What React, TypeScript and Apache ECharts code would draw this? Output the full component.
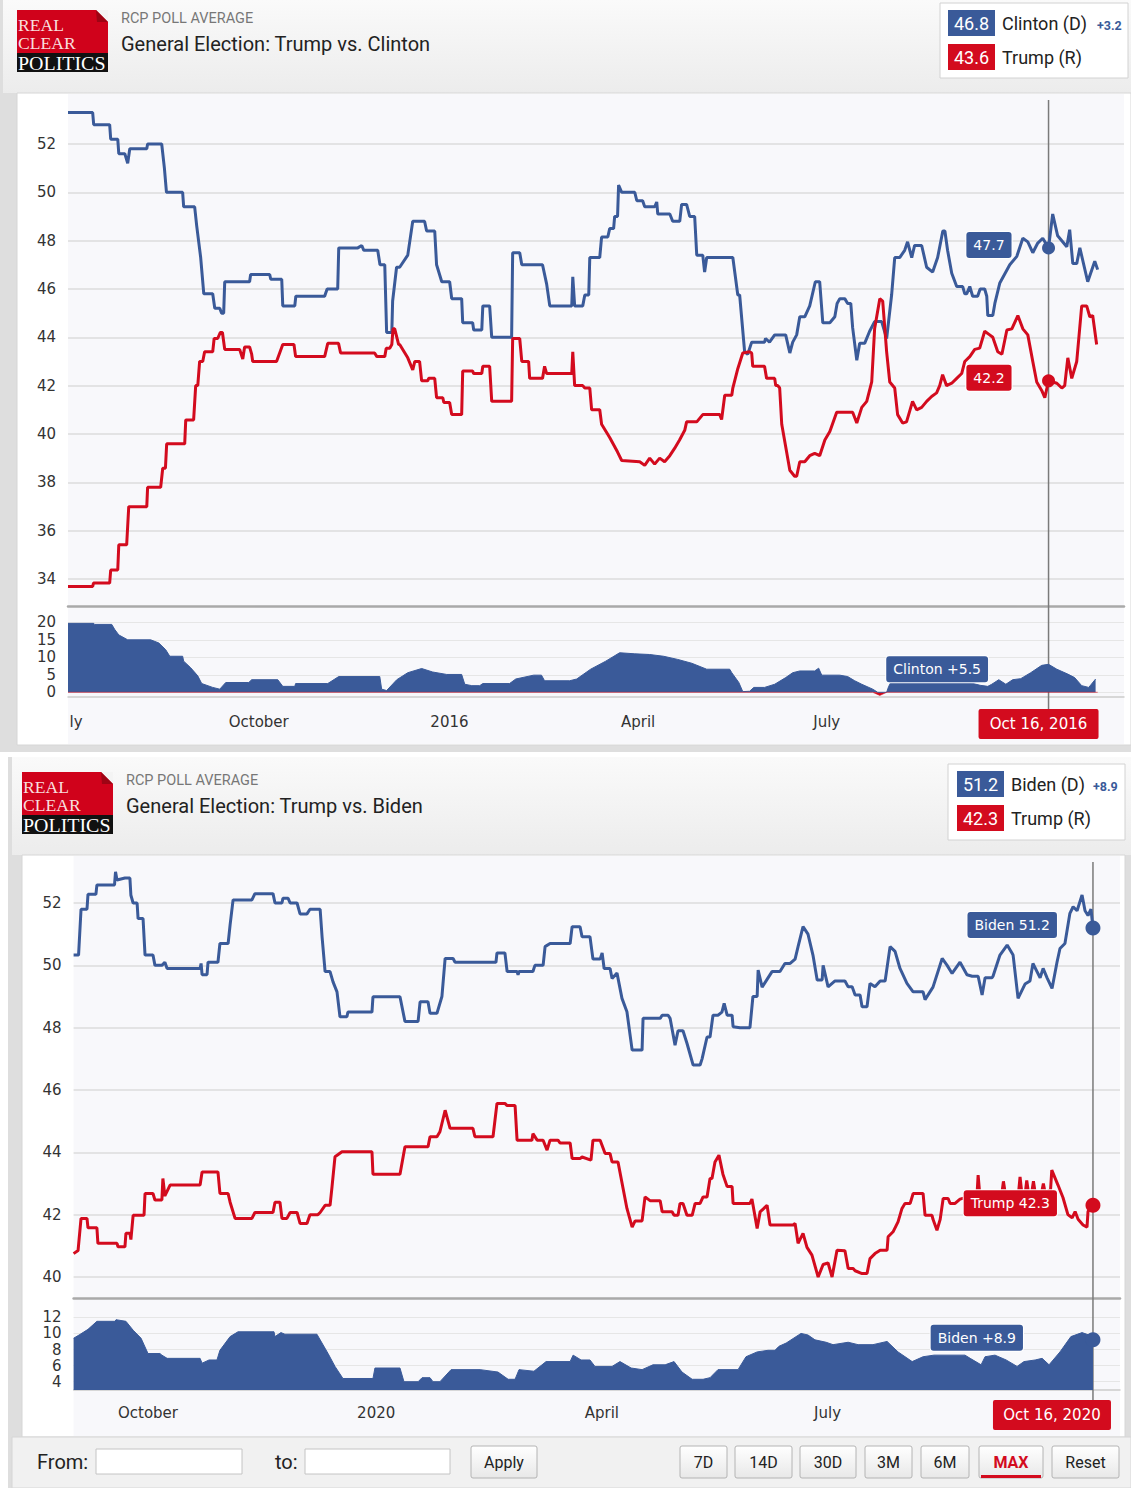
import React, { useEffect, useRef } from "react";
import * as echarts from "echarts";

const DAY = 86400000;
const START_2016 = Date.UTC(2015, 6, 1);
const START_2020 = Date.UTC(2019, 8, 1);
const CURRENT_DAY_2016 = 473; // Oct 16, 2016
const CURRENT_DAY_2020 = 411; // Oct 16, 2020

const BLUE = "#3a5a99";
const RED = "#d30b1e";

// ---- tick labels ----
const xTickDates2016 = ["2015-07-01", "2015-10-01", "2016-01-01", "2016-04-01", "2016-07-01"];
const xTickLabels2016 = ["ly", "October", "2016", "April", "July"];
const xTickDates2020 = ["2019-10-01", "2020-01-01", "2020-04-01", "2020-07-01"];
const xTickLabels2020 = ["October", "2020", "April", "July"];
const yTicksMain2016 = [34, 36, 38, 40, 42, 44, 46, 48, 50, 52];
const yTicksSpread2016 = [0, 5, 10, 15, 20];
const yTicksMain2020 = [40, 42, 44, 46, 48, 50, 52];
const yTicksSpread2020 = [4, 6, 8, 10, 12];

// ---- 2016 data: [days since Jul 1 2015, value] ----
const clinton2016 = [[0,53.3],[11.9,53.3],[12.4,52.8],[20.1,52.8],[20.6,52.2],[24,52.2],[24.5,51.6],[27.4,51.6],[28.8,51.2],[29.8,51.8],[38,51.8],[38.4,52.0],[45.2,52.0],[46.5,51.0],[47.5,50.0],[55.3,50.0],[55.8,49.4],[61.1,49.4],[62.1,48.6],[64,47.3],[65.5,45.8],[69.8,45.8],[70.8,45.2],[73.2,45.2],[74.1,45.0],[75.1,45.0],[75.6,46.3],[87.6,46.3],[88.1,46.6],[97.3,46.6],[97.8,46.4],[103.1,46.4],[103.6,45.3],[109.4,45.3],[109.9,45.7],[123.8,45.7],[125,46.0],[130.1,46.0],[130.6,47.7],[139.8,47.7],[141.7,47.8],[142.7,47.6],[149.4,47.6],[150.5,47.0],[152.8,47.0],[153.7,44.2],[156.2,44.2],[156.6,45.5],[158.5,46.9],[160,46.9],[163.9,47.4],[166.3,48.8],[172,48.8],[173,48.4],[176.9,48.4],[177.8,47.0],[180.3,46.3],[184.1,46.3],[185.1,45.6],[189.9,45.6],[190.4,44.6],[195.2,44.6],[195.7,44.3],[199.6,44.3],[200.1,45.3],[203.4,45.3],[204.4,44.0],[214,44.0],[214.5,47.5],[217.9,47.5],[218.9,47.0],[228.9,47.0],[230.9,46.2],[232.4,45.3],[243,45.3],[243.5,46.5],[244.4,45.3],[248.3,45.3],[249.3,45.75],[251.2,45.75],[251.7,47.3],[256.5,47.3],[257.4,48.15],[260.4,48.15],[261.3,48.5],[263.2,48.5],[263.7,49.0],[265.1,49.0],[265.6,50.3],[267.1,50.0],[273.4,50.0],[274.4,49.65],[277.2,49.65],[278.2,49.4],[283,49.4],[284,49.6],[284.5,49.1],[290.3,49.1],[291.7,48.8],[295.1,48.8],[296,49.5],[298.4,49.5],[299.9,49.0],[302.3,49.0],[303.3,47.4],[306.2,47.4],[307.1,46.7],[308.1,47.3],[320.7,47.3],[323.1,45.75],[324,45.75],[326.4,43.4],[327.9,43.3],[329.8,43.8],[336,43.8],[336.5,43.95],[338.4,43.8],[340.9,44.1],[346.2,44.1],[347,43.8],[348.2,43.35],[349.6,43.8],[351.5,44.1],[353,44.85],[355.4,44.85],[357.8,45.3],[360.5,46.3],[362.6,46.3],[364.1,44.6],[367.5,44.6],[369.9,44.85],[371,45.4],[372.3,45.6],[374.7,45.6],[376.1,45.4],[377.6,45.4],[378.5,44.4],[380.5,43.05],[381.9,43.75],[384.3,43.75],[386.7,44.25],[389.1,44.65],[392.5,44.65],[394.9,43.95],[397.3,45.75],[398.8,47.3],[401.2,47.3],[403.6,47.6],[405,47.95],[407,47.3],[408.4,47.8],[411.8,47.8],[414.2,46.9],[417.1,46.7],[419.5,47.3],[422,48.4],[423,48.4],[424.3,47.6],[426.3,46.65],[428.7,46.1],[431.6,46.1],[432.6,45.8],[433.5,45.8],[435,46.1],[436.4,45.7],[438.8,45.7],[440,46.0],[442.2,46.0],[443.2,45.7],[443.7,44.9],[446.1,44.9],[447.1,45.4],[449.5,46.25],[454.3,47.0],[457.7,47.35],[460.6,48.1],[463,47.95],[465.4,47.5],[467.8,47.9],[470.2,48.1],[473,47.7],[475,49.1],[477.4,48.2],[481.8,47.75],[483.2,48.45],[484.7,47.05],[486.6,47.05],[488.1,47.7],[491.9,46.3],[495.3,47.15],[496.7,46.8]];

const trump2016 = [[0,33.69],[11.9,33.69],[12.3,33.83],[20.1,33.83],[20.6,34.37],[24,34.37],[24.5,35.41],[28.3,35.41],[29.3,36.99],[38,36.99],[38.4,37.79],[44.7,37.79],[45.7,38.58],[47,38.58],[47.6,39.59],[56.3,39.59],[56.8,40.58],[60.6,40.58],[61.6,42.0],[62.6,42.0],[63.5,43.0],[65,43.0],[65.9,43.4],[69.8,43.4],[70.5,43.95],[72.2,43.95],[73.5,44.2],[74.5,44.2],[75.6,43.5],[82.8,43.5],[84.3,43.1],[85.2,43.6],[87.6,43.6],[88.6,43.3],[89.1,43.0],[100.6,43.0],[102.1,43.35],[103.6,43.7],[109,43.7],[109.8,43.2],[123.8,43.2],[125.3,43.75],[130.5,43.75],[131.5,43.35],[147.9,43.35],[149,43.2],[152.8,43.2],[153.5,43.55],[155.2,43.55],[156.2,43.7],[156.8,44.35],[157.6,44.35],[159.5,43.7],[160,43.7],[163.9,43.15],[166.3,42.65],[167.3,43.0],[169.6,43.0],[170.6,42.2],[173.5,42.2],[174,42.3],[176.9,42.3],[177.8,41.5],[180.8,41.5],[181.3,41.3],[184.1,41.3],[185.1,40.8],[189.9,40.8],[190.4,42.6],[195.2,42.6],[195.7,42.5],[199.6,42.5],[200.1,42.8],[203.4,42.8],[204.4,41.35],[214,41.35],[214.5,43.95],[217.9,43.95],[218.9,43.0],[222.2,43.0],[222.7,42.3],[228.9,42.3],[229.9,42.8],[230.9,42.5],[243,42.5],[243.5,43.4],[244.4,42.0],[248.3,42.0],[249.3,41.9],[251.7,41.9],[252.6,41.0],[256.5,41.0],[257.4,40.4],[261.3,39.85],[265.1,39.25],[267.1,38.9],[275.8,38.85],[278.2,38.7],[280.6,39.0],[283,38.75],[285.4,39.0],[287.8,38.85],[290.3,39.1],[292.6,39.4],[295,39.75],[297.5,40.15],[298.4,40.5],[303.3,40.5],[306.2,40.8],[314.4,40.8],[315.3,40.6],[316.8,41.6],[320.2,41.6],[320.7,41.9],[323.1,42.7],[325.5,43.35],[328.8,43.4],[329.8,43.35],[330.3,42.8],[336,42.8],[337,42.3],[340.9,42.3],[341.4,42.0],[342.4,42.0],[343.3,41.9],[344.3,40.4],[348.2,38.5],[350.5,38.25],[351.5,38.25],[353,38.85],[355.4,38.85],[357.8,39.1],[360.2,39.2],[362.6,39.1],[365.1,39.75],[367.5,40.1],[370.8,40.9],[378.5,40.9],[380.5,40.45],[382.9,41.1],[385.3,41.35],[387.7,42.15],[389.1,44.35],[391.6,45.6],[393,45.5],[394.9,43.4],[396.4,42.15],[398.8,41.9],[400.2,40.8],[402.6,40.45],[404.5,40.5],[407.4,41.35],[409.4,41.0],[411.8,41.1],[414.2,41.35],[416.6,41.55],[419,41.7],[420.5,42.0],[421.9,42.45],[423.8,42.0],[426.3,42.1],[428.7,42.3],[431.1,42.5],[432.6,43.0],[435,43.2],[437.4,43.5],[439.8,43.55],[442.2,44.25],[444.6,44.1],[446.1,44.0],[448.5,43.4],[450.5,43.3],[452.9,44.3],[455.3,44.35],[458.2,44.9],[460.6,44.35],[463,44.1],[465.4,43.0],[467.3,42.15],[469.7,41.8],[471.2,41.5],[473,42.2],[477,42.1],[479.4,41.9],[480.8,42.0],[482.3,43.15],[484.2,42.3],[486.6,43.0],[489,45.3],[491.4,45.3],[492.9,44.85],[494.3,44.9],[496.2,43.7]];

const clintonSpread2016 = [[0,19.7],[12.4,19.7],[12.9,19.4],[21.1,19.4],[22.5,18.0],[24.5,16.4],[28.8,15.0],[39.9,15.0],[43.8,14.1],[47.1,12.2],[49.1,10.3],[55.3,10.3],[55.8,8.9],[59.2,7.0],[62.6,4.7],[64.5,2.5],[69.8,1.4],[73.2,0.9],[76.1,2.8],[87.2,2.8],[88.6,3.6],[101.2,3.6],[103.6,1.7],[109.4,1.7],[109.8,2.5],[125.3,2.5],[130.6,4.5],[150.4,4.5],[151.3,0.9],[153.7,0.5],[158.6,3.6],[163.9,5.6],[170.6,6.8],[175.9,5.8],[182.7,5.1],[189.9,5.1],[191.4,2.3],[194.8,1.9],[198.6,1.9],[200.1,2.5],[213,2.5],[216,3.8],[224.6,4.9],[228.4,4.9],[229.9,3.3],[242,3.3],[245.4,3.8],[252.1,6.6],[259.4,8.9],[266.1,11.3],[273.4,11.0],[280.6,10.8],[287.3,10.3],[294.1,9.4],[300.9,8.3],[308.1,6.6],[319.2,6.6],[320.2,5.6],[323.6,2.8],[325.5,0.2],[328.8,0.3],[330.8,1.4],[336,1.4],[340.9,2.3],[346.2,4.2],[349.6,5.6],[353,6.1],[360.2,6.1],[362.1,6.9],[363.6,4.9],[372.3,4.9],[376.1,4.5],[379.5,3.3],[382.9,2.3],[388.2,0.9],[390.6,0],[394.9,0],[395.9,1.7],[398,4.0],[402,6.0],[410,6.3],[420,6.0],[430,3.5],[440,2.0],[443.7,1.7],[445.6,2.3],[449,3.6],[452.4,2.3],[455.7,3.6],[459.6,3.9],[464.4,5.6],[469.7,7.7],[473,8.0],[477,6.6],[482.3,5.2],[485.6,4.2],[489,1.9],[492.4,1.4],[495.7,3.8]];

const trumpLead2016 = [[0,0],[388.2,0],[391.6,-0.9],[394.9,0],[496.7,0]];

// ---- 2020 data: [days since Sep 1 2019, value] ----
const biden2020 = [[0,50.33],[2,50.33],[3,51.8],[5.4,51.8],[5.8,52.28],[9,52.28],[9.4,52.58],[16.5,52.58],[16.9,53.0],[17.5,52.74],[20.7,52.8],[22.7,52.8],[23.1,52.25],[24,52.0],[25.6,52.0],[26,51.5],[28,51.5],[28.8,50.33],[32,50.33],[32.8,50.0],[35.6,50.0],[36.8,50.1],[37.7,49.9],[51,49.9],[51.4,50.06],[51.8,49.7],[53.8,49.7],[54.2,50.1],[58.2,50.1],[59,50.7],[62.3,50.7],[63.1,51.3],[64.3,52.1],[71.9,52.1],[73.1,52.3],[80.4,52.3],[81.2,52.0],[84,52.0],[84.4,52.15],[86.5,52.15],[87.3,52.0],[90.1,52.0],[91.3,51.65],[94.1,51.65],[95.3,51.8],[99.4,51.8],[100.2,50.9],[101.4,49.8],[103.4,49.8],[104.6,49.47],[106.2,49.15],[107.4,48.35],[110.2,48.35],[110.6,48.5],[120.3,48.5],[120.7,48.99],[131.6,48.99],[133.6,48.2],[138.9,48.2],[139.7,48.83],[142.9,48.83],[143.7,48.46],[146.5,48.46],[148.5,49.0],[149.8,50.22],[153,50.22],[153.8,50.1],[170.3,50.1],[170.7,50.4],[173.9,50.4],[174.8,49.8],[178.8,49.8],[179.2,49.7],[179.6,49.8],[185.2,49.8],[186,50.0],[189.3,50.0],[190.1,50.6],[192.1,50.7],[200.2,50.7],[201,51.24],[204.2,51.24],[205,50.92],[208.2,50.92],[209.4,50.2],[212.3,50.2],[213.1,50.4],[213.9,49.9],[216.3,49.9],[217.1,49.58],[219.1,49.75],[221.1,48.94],[223.1,48.51],[225.2,47.28],[229.2,47.28],[229.6,48.3],[236.5,48.3],[237.3,48.4],[239.7,48.4],[240.5,48.3],[242.5,47.44],[243.7,47.9],[245.7,47.9],[247.3,47.5],[249.8,46.8],[252.6,46.8],[253.4,47.0],[255.4,47.7],[256.6,47.7],[257.8,48.4],[259.8,48.4],[261.4,48.5],[262.3,48.78],[263.5,48.4],[265.5,48.4],[265.9,48.03],[268.7,48.0],[272.7,48.0],[273.9,49.0],[275.6,49.0],[276,49.85],[277.6,49.3],[279.6,49.55],[281.6,49.8],[284.8,49.8],[286.8,50.06],[288.9,50.06],[290.9,50.2],[292.1,50.6],[294.1,51.24],[296.1,51.0],[298.1,50.33],[299.8,49.53],[301.8,49.53],[302.2,50.0],[304.2,49.31],[307,49.5],[311,49.5],[312.3,49.31],[313.9,49.31],[315.1,49.05],[317.1,49.05],[317.9,48.67],[319.9,48.67],[321.1,49.42],[323.1,49.31],[325.2,49.5],[327.2,49.5],[329.2,50.6],[331.2,50.45],[333.2,49.9],[336,49.42],[338.5,49.15],[342.5,49.15],[343.3,48.9],[346.5,49.3],[350.2,50.22],[352.2,50.0],[354.2,49.74],[357.4,50.1],[360.2,49.7],[362.3,49.65],[364.7,49.65],[366.3,49.05],[367.5,49.6],[370.3,49.6],[370.7,49.65],[373.5,50.33],[376.4,50.65],[378.8,50.33],[380.8,48.94],[383.6,49.4],[385.6,49.5],[386.8,50.06],[389.7,49.6],[390.9,49.9],[392.5,49.6],[394.5,49.26],[396.5,50.1],[397.7,50.54],[399.7,50.7],[401.7,51.67],[403,51.88],[404.6,51.75],[406.6,52.26],[407.8,51.75],[409,51.6],[410.2,51.8],[411,51.2]];

const trump2020 = [[0,40.75],[1.8,40.85],[3,41.88],[5.4,41.88],[5.8,41.58],[9.4,41.58],[9.8,41.08],[17.5,41.08],[17.9,40.97],[20.7,40.97],[21.1,41.4],[22.7,41.4],[23.1,41.2],[24,41.98],[28.4,41.98],[28.8,42.68],[32,42.68],[32.8,42.47],[35.6,42.47],[36,43.16],[36.8,42.6],[38.9,42.95],[51,42.95],[51.8,43.37],[58.2,43.37],[59,42.68],[62.3,42.68],[63.1,42.4],[65.1,41.88],[71.9,41.88],[73.1,42.07],[80.4,42.07],[81.2,42.4],[83.2,42.4],[84,41.88],[86,41.88],[87.3,42.07],[90.1,42.07],[91.3,41.72],[94.1,41.72],[95.3,42.0],[98.5,42.0],[99.4,42.07],[101.4,42.3],[103.4,42.3],[104.2,42.9],[105.4,43.86],[108.2,44.02],[120.3,44.02],[120.7,43.3],[131.6,43.3],[133.6,44.18],[142.9,44.18],[143.7,44.5],[146.5,44.5],[147.7,44.66],[149.8,45.35],[151.8,44.77],[161,44.77],[161.8,44.5],[169.1,44.5],[170.7,45.57],[173.9,45.57],[174.8,45.5],[178,45.5],[178.8,44.39],[184.8,44.39],[185.2,44.6],[186.9,44.39],[189.3,44.39],[190.9,44.07],[192.1,44.39],[195.3,44.39],[196.1,44.3],[200.2,44.3],[201,43.8],[204.2,43.8],[205,43.85],[208.6,43.75],[209.4,44.39],[212.3,44.39],[214.3,43.96],[216.3,43.96],[217.1,43.69],[219.5,43.69],[223.1,42.2],[225.2,41.6],[226.4,41.8],[229.2,41.8],[230.4,42.57],[232.4,42.45],[236.5,42.45],[237.3,42.09],[241.3,42.09],[242.1,41.98],[243.7,41.98],[244.5,42.36],[245.7,42.36],[247.3,41.98],[249.4,41.98],[250.6,42.36],[252.6,42.36],[253.8,42.57],[255.4,42.57],[256.6,43.16],[257.4,43.16],[258.6,43.69],[260.2,43.91],[261.8,43.3],[263.5,42.9],[265.5,42.9],[265.9,42.36],[272.7,42.36],[273.5,42.5],[275.6,41.56],[276.8,42.09],[279.6,42.3],[280.8,41.67],[290.1,41.67],[290.9,41.72],[292.1,41.08],[294.1,41.4],[295.7,40.95],[297.7,40.7],[300.2,40.0],[302.2,40.4],[304.2,40.45],[305.8,40.0],[307.8,40.86],[311,40.84],[312.3,40.27],[314.3,40.27],[315.1,40.2],[317.9,40.11],[319.9,40.11],[321.1,40.59],[323.1,40.75],[325.2,40.86],[328,40.86],[328.4,41.29],[330.4,41.45],[332.4,41.77],[334,42.2],[335.2,42.36],[337.3,42.36],[338.5,42.68],[342.5,42.68],[343.3,41.98],[346.1,41.98],[346.5,41.85],[348.1,41.5],[349.4,41.85],[350.6,42.52],[352.6,42.52],[353.4,42.36],[355.4,42.36],[357.4,42.5],[362,42.6],[364.3,42.7],[364.7,43.27],[365.3,42.7],[374.3,42.7],[374.9,43.07],[375.6,42.7],[381,42.7],[381.6,43.21],[382.3,42.7],[383.8,42.75],[384.3,43.1],[385,42.7],[386.4,42.75],[387,43.07],[387.7,42.7],[390.4,42.75],[391,43.0],[391.7,42.7],[393.9,42.8],[394.4,43.43],[396.9,42.95],[398.9,42.55],[400.9,42.0],[402.6,41.9],[403.8,42.1],[405,41.85],[407,41.67],[408.6,41.6],[409,42.1],[411,42.3]];

const bidenSpread2020 = [[0,9.4],[2.2,9.8],[5.8,10.5],[9.4,11.5],[16.7,11.5],[17.1,11.7],[21.1,11.5],[24,10.4],[27.2,9.4],[30,7.5],[34.8,7.5],[35.6,7.3],[37.7,6.9],[51,6.9],[51.8,6.3],[54.6,6.7],[57.8,6.7],[59,7.9],[63.1,9.6],[66.3,10.2],[80.8,10.2],[81.2,9.6],[83.6,10.1],[85.2,9.9],[98.1,9.9],[102.6,7.5],[105.4,5.9],[108.6,4.4],[120.7,4.4],[121.5,5.7],[131.6,5.7],[133.2,4.0],[138.9,4.0],[140.5,4.5],[143.7,4.5],[144.9,4.0],[147.7,4.0],[152.2,5.5],[163.9,5.5],[171.1,5.2],[175.2,4.3],[178,4.3],[179.6,5.5],[185.6,5.3],[190.5,6.5],[200.2,6.5],[201.4,7.3],[204.6,6.7],[208.2,6.7],[210.2,5.9],[217.1,5.9],[220.3,6.5],[224.8,5.7],[229.2,5.5],[233.6,6.1],[238.5,6.1],[242.1,6.5],[245.3,5.2],[249.4,4.3],[253.8,4.3],[256.6,4.5],[259.8,5.5],[267.9,5.5],[271.1,7.1],[275.6,7.7],[280,7.9],[282.8,7.9],[284.4,8.4],[287.3,8.8],[293.3,10.0],[296.1,9.8],[298.9,9.2],[303.4,8.9],[306.2,8.6],[312.3,8.9],[316.3,8.6],[322.3,8.6],[328,9.0],[332.4,7.7],[338.1,6.5],[342.5,7.1],[346.9,7.3],[359.4,7.3],[361.5,6.9],[365.9,6.1],[367.5,7.1],[371.5,7.3],[376,6.7],[380.4,5.9],[383.2,6.5],[387.7,6.7],[390.5,6.9],[393.3,6.1],[397.7,7.7],[402.1,9.6],[406.6,10.1],[409.4,9.8],[411,9.2]];

const legend2016 = { dem: "Clinton (D)", demValue: "46.8", rep: "Trump (R)", repValue: "43.6", spread: "+3.2" };
const legend2020 = { dem: "Biden (D)", demValue: "51.2", rep: "Trump (R)", repValue: "42.3", spread: "+8.9" };
const rangeButtons = ["7D", "14D", "30D", "3M", "6M", "MAX", "Reset"];

const toTime = (start: number, pts: number[][]) => pts.map(([d, v]) => [start + d * DAY, v]);
const near = (list: number[], v: number) => list.some((t) => Math.abs(t - v) < 1e-6);

const txt = (x: number, y: number, text: string, o: any = {}) => ({
  type: "text",
  x,
  y,
  scaleX: o.sx ?? 1,
  z: o.z ?? 100,
  style: {
    text,
    fill: o.fill || "#222",
    fontSize: o.size || 14,
    fontFamily: o.family || "Roboto",
    fontWeight: o.weight || "normal",
    lineHeight: o.lh,
    align: o.align || "left",
    verticalAlign: "middle",
    textAlign: o.align || "left",
    textVerticalAlign: "middle",
  },
});
const rect = (x: number, y: number, w: number, h: number, fill: any, o: any = {}) => ({
  type: "rect",
  z: o.z ?? 50,
  shape: { x, y, width: w, height: h, r: o.r || 0 },
  style: { fill, stroke: o.stroke || null, lineWidth: o.lw || 1 },
});
const vgrad = (a: string, b: string) => ({
  type: "linear", x: 0, y: 0, x2: 0, y2: 1,
  colorStops: [{ offset: 0, color: a }, { offset: 1, color: b }],
});

function header(L: number, T: number, title: string, lg: any, box: number[]) {
  const els: any[] = [];
  // logo
  els.push(rect(L, T, 91, 43, "#d0021b", { z: 60 }));
  els.push({ type: "polygon", z: 61, shape: { points: [[L + 79, T], [L + 91, T], [L + 91, T + 12]] }, style: { fill: "#f4f4f4" } });
  els.push({ type: "polygon", z: 61, shape: { points: [[L + 79, T], [L + 91, T + 12], [L + 80, T + 12]] }, style: { fill: "#9e0414" } });
  els.push(rect(L, T + 43, 91, 19, "#111111", { z: 60 }));
  els.push(txt(L + 1, T + 16, "REAL", { family: "Liberation Serif", size: 16, sx: 1.1, fill: "#f8dede" }));
  els.push(txt(L + 1, T + 34, "CLEAR", { family: "Liberation Serif", size: 16, sx: 1.1, fill: "#f8dede" }));
  els.push(txt(L + 1, T + 53.5, "POLITICS", { family: "Liberation Serif", size: 19, sx: 1.05, fill: "#ffffff" }));
  els.push(txt(L + 104, T + 8, "RCP POLL AVERAGE", { size: 14.5, fill: "#777777" }));
  els.push(txt(L + 104, T + 34, title, { size: 20, fill: "#222222" }));
  // legend box
  const [bx, by, bw, bh, vx, tx, sx] = box;
  els.push(rect(bx, by, bw, bh, "#ffffff", { stroke: "#d2d2d2", z: 55 }));
  els.push(rect(vx, by + 7, 47, 26, BLUE, { z: 60 }));
  els.push(txt(vx + 23.5, by + 20, lg.demValue, { size: 18, fill: "#ffffff", align: "center" }));
  els.push(txt(tx, by + 20, lg.dem, { size: 18, fill: "#222" }));
  els.push(txt(sx, by + 22, lg.spread, { size: 12.5, fill: BLUE, weight: "bold" }));
  els.push(rect(vx, by + 41, 47, 26, RED, { z: 60 }));
  els.push(txt(vx + 23.5, by + 54, lg.repValue, { size: 18, fill: "#ffffff", align: "center" }));
  els.push(txt(tx, by + 54, lg.rep, { size: 18, fill: "#222" }));
  return els;
}

function baseGraphics() {
  const els: any[] = [];
  // panel 1 frame
  els.push(rect(0, 0, 1131, 752, "#dedede", { z: -30 }));
  els.push(rect(3, 0, 1128, 93, vgrad("#fafafa", "#ececec"), { z: -29 }));
  els.push(rect(17, 93, 1114, 652, "#ffffff", { z: -28, stroke: "#d6d6d6" }));
  els.push(rect(68, 94, 1056, 650, "#f8f8fb", { z: -27 }));
  // panel 2 frame
  els.push(rect(8, 757, 1123, 731, "#dedede", { z: -30 }));
  els.push(rect(12, 757, 1119, 98, vgrad("#fafafa", "#ececec"), { z: -29 }));
  els.push(rect(22, 855, 1103, 582, "#ffffff", { z: -28, stroke: "#d6d6d6" }));
  els.push(rect(73.6, 856, 1046.4, 580, "#f8f8fb", { z: -27 }));
  els.push(rect(12, 1437, 1119, 51, "#f1f1f1", { z: -26, stroke: "#d6d6d6" }));

  els.push(...header(17, 10, "General Election: Trump vs. Clinton", legend2016, [940, 3, 188, 75, 948, 1002, 1097]));
  els.push(...header(22, 772, "General Election: Trump vs. Biden", legend2020, [948, 764, 177, 76, 957, 1011, 1093]));

  // bottom controls
  els.push(txt(37, 1462, "From:", { size: 20, fill: "#222" }));
  els.push(rect(96, 1449, 146, 25, "#ffffff", { stroke: "#c4c4c4" }));
  els.push(txt(275, 1462, "to:", { size: 20, fill: "#222" }));
  els.push(rect(305, 1449, 145, 25, "#ffffff", { stroke: "#c4c4c4" }));
  els.push(rect(471, 1446, 66, 32, vgrad("#ffffff", "#e8e8e8"), { stroke: "#b4b4b4", r: 2 }));
  els.push(txt(504, 1462, "Apply", { size: 16, fill: "#222", align: "center" }));
  const btnX = [680, 735, 800, 865, 921, 979, 1052];
  const btnW = [47, 57, 56, 47, 48, 64, 67];
  rangeButtons.forEach((b, i) => {
    els.push(rect(btnX[i], 1446, btnW[i], 32, vgrad("#ffffff", "#e8e8e8"), { stroke: "#b4b4b4", r: 2 }));
    const isMax = b === "MAX";
    els.push(txt(btnX[i] + btnW[i] / 2, 1462, b, { size: 16, fill: isMax ? RED : "#222", weight: isMax ? "bold" : "normal", align: "center" }));
    if (isMax) els.push(rect(btnX[i] + 2, 1475, btnW[i] - 4, 3, RED, { z: 120 }));
  });
  return els;
}

const mainX = (gridIndex: number, min: number, max: number) => ({
  type: "value", gridIndex, min, max,
  axisLine: { show: true, onZero: false, lineStyle: { color: "#a9a9a9", width: 2.5 } },
  axisTick: { show: false }, axisLabel: { show: false }, splitLine: { show: false },
});
const labelX = (gridIndex: number, min: number, max: number, dates: string[], labels: string[], margin: number, lineColor: string) => {
  const vals = dates.map((d) => Date.parse(d));
  return {
    type: "value", gridIndex, min, max,
    axisLine: { show: true, onZero: false, lineStyle: { color: lineColor, width: 1.5 } },
    axisTick: { show: false }, splitLine: { show: false },
    axisLabel: {
      customValues: vals, margin, fontSize: 15, color: "#333", fontFamily: "DejaVu Sans",
      formatter: (v: number) => {
        const i = vals.findIndex((t) => Math.abs(t - v) < 1000);
        if (i < 0) return "";
        return labels[i] === "ly" ? "{clip|ly}" : labels[i];
      },
      rich: { clip: { padding: [0, 0, 0, 16], fontSize: 15, color: "#333", fontFamily: "DejaVu Sans" } },
    },
  };
};
const yCfg = (gridIndex: number, min: number, max: number, step: number, ticks: number[], gridColor: string, gw: number) => ({
  type: "value", gridIndex, min, max, minInterval: step, maxInterval: step,
  axisLine: { show: false }, axisTick: { show: false },
  axisLabel: { customValues: ticks, fontSize: 15, color: "#333", margin: 12, fontFamily: "DejaVu Sans", formatter: (v: number) => (near(ticks, v) ? String(v) : "") },
  splitLine: { show: true, showMinLine: false, showMaxLine: false, lineStyle: { color: gridColor, width: gw } },
});

const labelStyle = (bg: string, text: string, distance: number, dy: number) => ({
  show: true, position: "left", distance, formatter: text, offset: [0, dy],
  color: "#ffffff", backgroundColor: bg, borderRadius: 3, borderColor: "#ffffff", borderWidth: 1,
  padding: [6, 7, 6, 7], fontSize: 14, lineHeight: 14, fontFamily: "DejaVu Sans",
});

export default function App() {
  const ref = useRef<HTMLDivElement>(null);
  useEffect(() => {
    document.body.style.margin = "0";
    const chart = echarts.init(ref.current!, undefined, { renderer: "svg" });
    const X16_MIN = START_2016;
    const X16_MAX = START_2016 + 509.4 * DAY;
    const X20_MIN = START_2020;
    const X20_MAX = START_2020 + 421.9 * DAY;
    const cur16 = START_2016 + CURRENT_DAY_2016 * DAY;
    const cur20 = START_2020 + CURRENT_DAY_2020 * DAY;
    const base = baseGraphics();

    const option: any = {
      animation: false,
      backgroundColor: "#ffffff",
      textStyle: { fontFamily: "DejaVu Sans" },
      grid: [
        { left: 68, width: 1056, top: 100, height: 506 },
        { left: 68, width: 1056, top: 608, height: 89 },
        { left: 73.6, width: 1046.4, top: 862, height: 436 },
        { left: 73.6, width: 1046.4, top: 1302, height: 88 },
      ],
      xAxis: [
        mainX(0, X16_MIN, X16_MAX),
        labelX(1, X16_MIN, X16_MAX, xTickDates2016, xTickLabels2016, 17, "#cccccc"),
        mainX(2, X20_MIN, X20_MAX),
        labelX(3, X20_MIN, X20_MAX, xTickDates2020, xTickLabels2020, 15, "#cccccc"),
      ],
      yAxis: [
        yCfg(0, 32.88, 53.82, 2, yTicksMain2016, "#dcdcdc", 1.5),
        yCfg(1, -1.34, 24.09, 5, yTicksSpread2016, "#e6e6e6", 1),
        yCfg(2, 39.326, 53.316, 2, yTicksMain2020, "#dcdcdc", 1.5),
        yCfg(3, 2.97, 13.9, 2, yTicksSpread2020, "#e6e6e6", 1),
      ],
      series: [
        {
          type: "line", name: "Clinton", xAxisIndex: 0, yAxisIndex: 0, data: toTime(START_2016, clinton2016),
          showSymbol: false, symbol: "none", lineStyle: { color: BLUE, width: 3 }, itemStyle: { color: BLUE },
          markPoint: { symbol: "circle", symbolSize: 13, itemStyle: { color: BLUE }, data: [{ coord: [cur16, 47.7], label: labelStyle(BLUE, "47.7", 30.5, -3) }] },
        },
        {
          type: "line", name: "Trump", xAxisIndex: 0, yAxisIndex: 0, data: toTime(START_2016, trump2016),
          showSymbol: false, symbol: "none", lineStyle: { color: RED, width: 3 }, itemStyle: { color: RED },
          markPoint: { symbol: "circle", symbolSize: 13, itemStyle: { color: RED }, data: [{ coord: [cur16, 42.2], label: labelStyle(RED, "42.2", 30.5, -3) }] },
        },
        {
          type: "line", name: "Clinton spread", xAxisIndex: 1, yAxisIndex: 1, data: toTime(START_2016, clintonSpread2016),
          showSymbol: false, symbol: "none", lineStyle: { color: BLUE, width: 1 }, itemStyle: { color: BLUE },
          areaStyle: { color: BLUE, opacity: 1, origin: "auto" },
          markPoint: { symbol: "circle", symbolSize: 1, itemStyle: { color: "rgba(0,0,0,0)" }, data: [{ coord: [cur16, 8.0], label: labelStyle(BLUE, "Clinton +5.5", 60, 5) }] },
        },
        {
          type: "line", name: "Trump spread", xAxisIndex: 1, yAxisIndex: 1, data: toTime(START_2016, trumpLead2016),
          showSymbol: false, symbol: "none", lineStyle: { color: RED, width: 1, opacity: 0.6 }, itemStyle: { color: RED },
          areaStyle: { color: RED, opacity: 1, origin: "auto" },
        },
        {
          type: "line", name: "Biden", xAxisIndex: 2, yAxisIndex: 2, data: toTime(START_2020, biden2020),
          showSymbol: false, symbol: "none", lineStyle: { color: BLUE, width: 3 }, itemStyle: { color: BLUE },
          markPoint: { symbol: "circle", symbolSize: 15, itemStyle: { color: BLUE }, data: [{ coord: [cur20, 51.2], label: labelStyle(BLUE, "Biden 51.2", 28.5, -3) }] },
        },
        {
          type: "line", name: "Trump 2020", xAxisIndex: 2, yAxisIndex: 2, data: toTime(START_2020, trump2020),
          showSymbol: false, symbol: "none", lineStyle: { color: RED, width: 3 }, itemStyle: { color: RED },
          markPoint: { symbol: "circle", symbolSize: 15, itemStyle: { color: RED }, data: [{ coord: [cur20, 42.3], label: labelStyle(RED, "Trump 42.3", 28.5, -2) }] },
        },
        {
          type: "line", name: "Biden spread", xAxisIndex: 3, yAxisIndex: 3, data: toTime(START_2020, bidenSpread2020),
          showSymbol: false, symbol: "none", lineStyle: { color: BLUE, width: 1 }, itemStyle: { color: BLUE },
          areaStyle: { color: BLUE, opacity: 1, origin: "start" },
          markPoint: { symbol: "circle", symbolSize: 15, itemStyle: { color: BLUE }, data: [{ coord: [cur20, 9.2], label: labelStyle(BLUE, "Biden +8.9", 62.5, -2) }] },
        },
      ],
      graphic: { elements: base },
    };
    chart.setOption(option);

    const px16 = chart.convertToPixel({ xAxisIndex: 1 }, cur16) as number;
    const px20 = chart.convertToPixel({ xAxisIndex: 3 }, cur20) as number;
    const extra: any[] = [
      { type: "line", z: 3, shape: { x1: px16, y1: 100, x2: px16, y2: 709 }, style: { stroke: "#7a7a7a", lineWidth: 1.5 } },
      rect(px16 - 70, 709, 120, 30, RED, { z: 110, r: 2 }),
      txt(px16 - 10, 724, "Oct 16, 2016", { family: "DejaVu Sans", size: 15, fill: "#ffffff", align: "center", z: 111 }),
      { type: "line", z: 3, shape: { x1: px20, y1: 862, x2: px20, y2: 1400 }, style: { stroke: "#7a7a7a", lineWidth: 1.5 } },
      rect(px20 - 100, 1400, 118, 30, RED, { z: 110, r: 2 }),
      txt(px20 - 41, 1415, "Oct 16, 2020", { family: "DejaVu Sans", size: 15, fill: "#ffffff", align: "center", z: 111 }),
    ];
    chart.setOption({ graphic: { elements: [...base, ...extra] } });

    return () => chart.dispose();
  }, []);
  return <div ref={ref} style={{ width: 1131, height: 1488 }} />;
}
